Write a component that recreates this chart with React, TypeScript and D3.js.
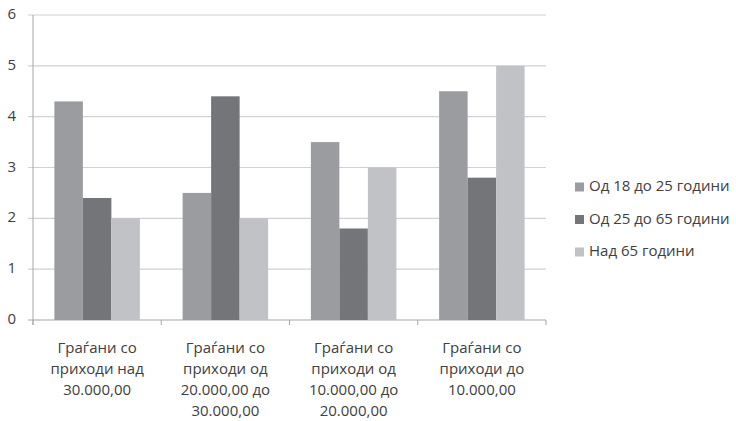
import React from "react";
import * as d3 from "d3";

const categories = [
    ["Граѓани со", "приходи над", "30.000,00"],
    ["Граѓани со", "приходи од", "20.000,00 до", "30.000,00"],
    ["Граѓани со", "приходи од", "10.000,00 до", "20.000,00"],
    ["Граѓани со", "приходи до", "10.000,00"],
];
const seriesNames = ["Од 18 до 25 години", "Од 25 до 65 години", "Над 65 години"];
const age18to25 = [4.3, 2.5, 3.5, 4.5];
const age25to65 = [2.4, 4.4, 1.8, 2.8];
const over65 = [2.0, 2.0, 3.0, 5.0];
const yTicks = [0, 1, 2, 3, 4, 5, 6];

const COLORS = ["#9b9c9f", "#747579", "#c1c2c5"];
const WIDTH = 736;
const HEIGHT = 421;
const FONT = "'Open Sans', sans-serif";
const TEXT = "#404040";

export default function App() {
    const margin = { top: 15, right: 190, bottom: 101, left: 33 };
    const series = [age18to25, age25to65, over65];

    const x = d3.scaleBand<number>()
        .domain(d3.range(categories.length))
        .range([margin.left, WIDTH - margin.right]);

    // excel style: gap width 150% of a bar
    const barW = x.bandwidth() / (series.length + 1.5);
    const groupPad = (x.bandwidth() - barW * series.length) / 2;

    const y = d3.scaleLinear([0, 6], [HEIGHT - margin.bottom, margin.top]);

    const x0 = margin.left;
    const x1 = WIDTH - margin.right;

    return <svg width={WIDTH} height={HEIGHT}
        style={{ position: "absolute", left: 0, top: 0, background: "#fff" }}
        fontFamily={FONT}>

        <g name="grid">
            {yTicks.map((t) => (
                <g key={t}>
                    <line x1={x0 - 5} x2={x1} y1={y(t)} y2={y(t)}
                        stroke={t === 0 ? "#a6a6a6" : "#d2d2d2"} strokeWidth={1.2} />
                    <text x={16} y={y(t)} dominantBaseline="middle" textAnchor="end"
                        fontSize={15} fill={TEXT}>{t}</text>
                </g>
            ))}
        </g>

        <line x1={x0} x2={x0} y1={margin.top} y2={y(0) + 5} stroke="#a6a6a6" />
        {d3.range(categories.length + 1).map((i) => {
            const xx = margin.left + i * x.step();
            return <line key={i} x1={xx} x2={xx} y1={y(0)} y2={y(0) + 5} stroke="#a6a6a6" />;
        })}

        <g name="bars">
            {series.map((vals, s) => vals.map((v, i) => (
                <rect key={s + "-" + i}
                    x={x(i)! + groupPad + s * barW}
                    y={y(v)}
                    width={barW}
                    height={y(0) - y(v)}
                    fill={COLORS[s]} />
            )))}
        </g>

        <g name="xLabels">
            {categories.map((lines, i) => (
                <text key={i} textAnchor="middle" fontSize={15} fill={TEXT}>
                    {lines.map((l, j) => (
                        <tspan key={j} x={x(i)! + x.bandwidth() / 2} y={352.5 + j * 21.3}>{l}</tspan>
                    ))}
                </text>
            ))}
        </g>

        <g name="legend">
            {seriesNames.map((name, s) => (
                <g key={name} transform={`translate(575, ${187 + s * 32.5})`}>
                    <rect x={0} y={-4.5} width={9} height={9} fill={COLORS[s]} />
                    <text x={14} y={0} dominantBaseline="middle" fontSize={15} fill={TEXT}>{name}</text>
                </g>
            ))}
        </g>
    </svg>;
}
